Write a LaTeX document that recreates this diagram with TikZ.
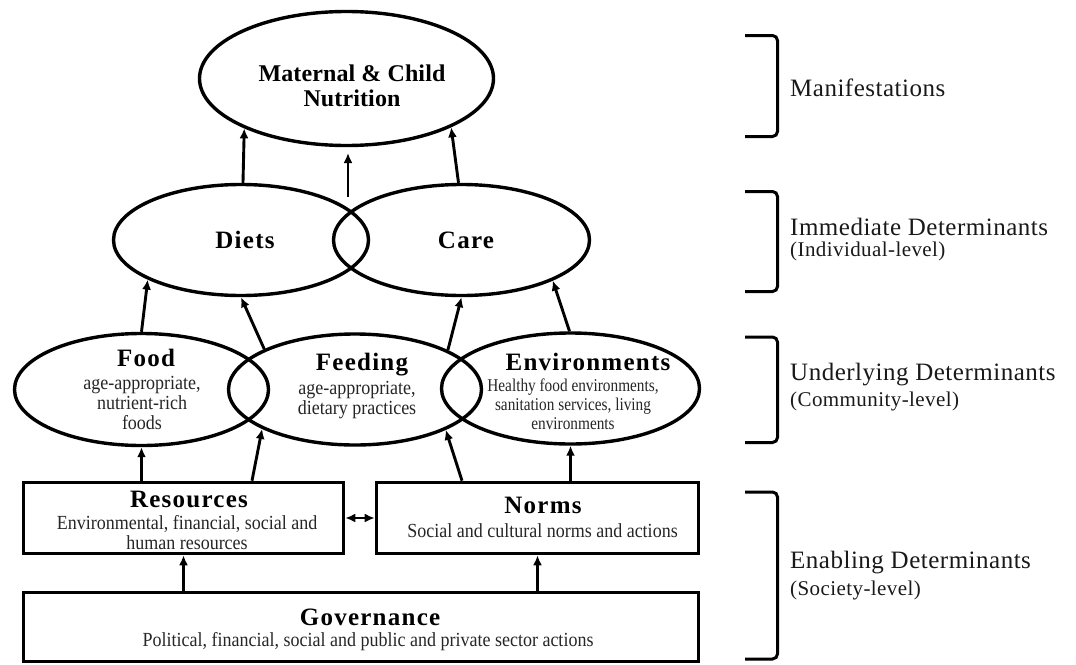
\documentclass[tikz,border=0pt]{standalone}
\usepackage{fontspec}
\setmainfont{Liberation Serif}
\newfontfamily\titlefont{Liberation Serif}[LetterSpace=5]
\newfontfamily\headfont{Liberation Serif}[LetterSpace=0.5]
\newfontfamily\labelfont{Liberation Serif}[LetterSpace=2]
\newfontfamily\subfont{Liberation Serif}[FakeStretch=0.9]
\newfontfamily\narrowfont{Liberation Serif}[FakeStretch=0.85]
\usetikzlibrary{shapes.geometric,arrows.meta}

\begin{document}
\begin{tikzpicture}[x=1pt,y=-1pt,
  oval/.style={ellipse,draw,line width=3.4pt,inner sep=0pt},
  box/.style={rectangle,draw,line width=3.6pt,inner sep=0pt},
  ttl/.style={font=\titlefont\bfseries\fontsize{25}{28}\selectfont,inner sep=0pt},
  sub/.style={font=\subfont\fontsize{20}{20}\selectfont,text=black!85,align=center,inner sep=0pt},
  arr/.style={line width=2.9pt,-{Latex[length=10pt,width=9pt]}},
  dblarr/.style={line width=2.9pt,{Latex[length=10pt,width=9pt]}-{Latex[length=10pt,width=9pt]}},
  brk/.style={line width=3pt,rounded corners=5pt},
  lvl/.style={font=\labelfont\fontsize{25}{28}\selectfont,text=black!90,anchor=west,inner sep=0pt},
  lvlsub/.style={font=\labelfont\fontsize{21}{24}\selectfont,text=black!90,anchor=west,inner sep=0pt}]

\useasboundingbox (0,0) rectangle (1076,664);

% outcome
\node[oval,minimum width=294,minimum height=134] (mcn) at (346.5,78.5) {};
\node[font=\headfont\bfseries\fontsize{24}{25}\selectfont,align=center,inner sep=0pt]
  (mcnT) at (352,86) {Maternal \& Child\\Nutrition};

% immediate determinants
\node[oval,minimum width=255,minimum height=111] (diets) at (241,240) {};
\node[oval,minimum width=256,minimum height=111] (care) at (461.5,240) {};
\node[ttl] (dietsT) at (245,240) {Diets};
\node[ttl] (careT) at (466,240) {Care};

% underlying determinants
\node[oval,minimum width=254,minimum height=112] (food) at (141.5,389.5) {};
\node[oval,minimum width=253,minimum height=111] (feeding) at (355,389.5) {};
\node[oval,minimum width=258,minimum height=111] (env) at (570.5,388.5) {};
\node[ttl] (foodT) at (146,358) {Food};
\node[sub] (foodS) at (142,402.5) {age-appropriate,\\nutrient-rich\\foods};
\node[ttl] (feedT) at (362,365) {Feeding};
\node[sub,font=\subfont\fontsize{20}{17.5}\selectfont] (feedS) at (357,400) {age-appropriate,\\dietary practices};
\node[ttl] (envT) at (588,362) {Environments};
\node[sub,font=\narrowfont\fontsize{18}{19}\selectfont] (envS) at (573,404)
  {Healthy food environments,\\sanitation services, living\\environments};

% enabling determinants
\node[box,minimum width=320,minimum height=71] (res) at (183.5,518) {};
\node[box,minimum width=322,minimum height=71] (norms) at (537.5,518) {};
\node[box,minimum width=675,minimum height=69] (gov) at (361,627) {};
\node[ttl] (resT) at (189,499) {Resources};
\node[sub] (resS) at (187,533) {Environmental, financial, social and\\human resources};
\node[ttl] (normsT) at (543,505) {Norms};
\node[sub] (normsS) at (542.5,531) {Social and cultural norms and actions};
\node[ttl] (govT) at (370,617) {Governance};
\node[sub] (govS) at (368,642) {Political, financial, social and public and private sector actions};

% connectors
\coordinate (midS) at (348,197);
\coordinate (midE) at (348,153);
\draw[arr] (diets.88) -- (mcn.206.6);
\draw[arr] (midS) -- (midE);
\draw[arr] (care.93.5) -- (mcn.335.4);
\draw[arr] (food.90) -- (diets.203.5);
\draw[arr] (feeding.156.7) -- (diets.270);
\draw[arr] (feeding.23.3) -- (care.270);
\draw[arr] (env.91) -- (care.336.2);
\draw[arr] (res.north -| food.south) -- (food.south);
\draw[arr] ([xshift=68.5pt]res.north) -- (feeding.203.3);
\draw[arr] ([xshift=-75.5pt]norms.north) -- (feeding.336.7);
\draw[arr] (norms.north -| env.south) -- (env.south);
\draw[arr] (gov.north -| res.south) -- (res.south);
\draw[arr] (gov.north -| norms.south) -- (norms.south);
\draw[dblarr] (res.east) -- (norms.west);

% level brackets
\draw[brk] (745,35.5) -- (777.5,35.5) -- (777.5,136.5) -- (745,136.5);
\draw[brk] (745,191.5) -- (777.5,191.5) -- (777.5,291.5) -- (745,291.5);
\draw[brk] (745,337) -- (777.5,337) -- (777.5,442.5) -- (745,442.5);
\draw[brk] (745,492) -- (777.5,492) -- (777.5,659) -- (745,659);

% level labels
\node[lvl] (lvlM) at (790,88) {Manifestations};
\node[lvl] (lvlI) at (790,226.5) {Immediate Determinants};
\node[lvlsub] (lvlIs) at (790,251.5) {(Individual-level)};
\node[lvl] (lvlU) at (790,375) {Underlying Determinants};
\node[lvlsub] (lvlUs) at (790,401) {(Community-level)};
\node[lvl] (lvlE) at (790,563) {Enabling Determinants};
\node[lvlsub] (lvlEs) at (790,590) {(Society-level)};
\end{tikzpicture}
\end{document}
